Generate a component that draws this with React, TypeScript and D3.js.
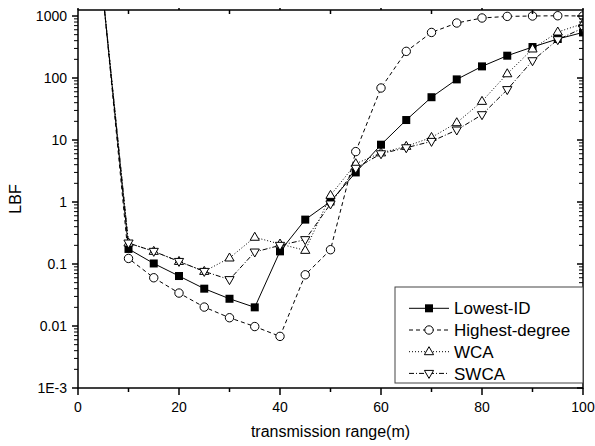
import React from 'react';
import * as d3 from 'd3';

// transmission range (m)
const ranges = [5, 10, 15, 20, 25, 30, 35, 40, 45, 50, 55, 60, 65, 70, 75, 80, 85, 90, 95, 100];
// LBF per algorithm (first point is off the top of the chart)
const lowestId = [2000, 0.175, 0.102, 0.064, 0.04, 0.0275, 0.02, 0.16, 0.52, 1.02, 3.0, 8.4, 21, 49, 95, 154, 229, 316, 426, 543];
const highestDegree = [2000, 0.123, 0.06, 0.034, 0.0202, 0.0136, 0.0098, 0.0068, 0.067, 0.17, 6.5, 69, 269, 543, 771, 929, 986, 1000, 1010, 1000];
const wca = [2000, 0.218, 0.16, 0.11, 0.076, 0.125, 0.27, 0.21, 0.166, 1.28, 4.15, 6.2, 7.9, 11, 19, 42, 117, 294, 552, 751];
const swca = [2000, 0.218, 0.16, 0.11, 0.076, 0.056, 0.156, 0.2, 0.247, 0.93, 3.5, 6.0, 7.5, 9.5, 14.5, 25.6, 65, 190, 415, 640];

const seriesNames = ['Lowest-ID', 'Highest-degree', 'WCA', 'SWCA'];
const xTicks = [0, 20, 40, 60, 80, 100];
const yTicks = [0.001, 0.01, 0.1, 1, 10, 100, 1000];
const yTickLabels = ['1E-3', '0.01', '0.1', '1', '10', '100', '1000'];

const W = 595, H = 446;
const left = 78, right = 583, top = 10, bottom = 388;
const FONT = '"Liberation Sans", Arial, sans-serif';

const x = d3.scaleLinear().domain([0, 100]).range([left, right]);
const y = d3.scaleLog().domain([0.001, 1250]).range([bottom, top]);

const styles = [
  { dash: undefined, marker: 'square' },
  { dash: '4,3', marker: 'circle' },
  { dash: '1,2', marker: 'up' },
  { dash: '5,2,1,2', marker: 'down' },
];

const Marker = ({ kind, cx, cy }: { kind: string; cx: number; cy: number }) => {
  if (kind === 'square')
    return <rect x={cx - 4} y={cy - 4} width={8} height={8} fill="#000" />;
  if (kind === 'circle')
    return <circle cx={cx} cy={cy} r={4.2} fill="#fff" stroke="#000" strokeWidth={1} />;
  const s = kind === 'up' ? 1 : -1;
  const pts = [[cx, cy - 5 * s], [cx + 4.6, cy + 3 * s], [cx - 4.6, cy + 3 * s]];
  return <polygon points={pts.map(p => p.join(',')).join(' ')} fill="#fff" stroke="#000" strokeWidth={1} />;
};

const App = () => {
  const allSeries = [lowestId, highestDegree, wca, swca];
  const line = d3.line<number>()
    .x((_, i) => x(ranges[i]))
    .y(v => y(v));

  const minorX = d3.range(0, 101, 10).filter(v => v % 20 !== 0);
  const minorY: number[] = [];
  for (let e = -3; e <= 3; e++) {
    for (let k = 2; k <= 9; k++) {
      const v = k * Math.pow(10, e);
      if (v <= 1250) minorY.push(v);
    }
  }

  const legendX = 395, legendY = 287, legendRowH = 21.7;

  return (
    <svg width={W} height={H} style={{ position: 'absolute', left: 0, top: 0, background: '#fff' }} fontFamily={FONT}>
      <defs>
        <clipPath id="plot">
          <rect x={left} y={top} width={right - left} height={bottom - top} />
        </clipPath>
      </defs>
      <rect width={W} height={H} fill="#fff" />

      {/* series */}
      <g clipPath="url(#plot)">
        {allSeries.map((data, si) => (
          <path key={si} d={line(data) || ''} fill="none" stroke="#000" strokeWidth={1}
            strokeDasharray={styles[si].dash} />
        ))}
        {allSeries.map((data, si) => (
          <g key={'m' + si}>
            {data.map((v, i) => (
              <Marker key={i} kind={styles[si].marker} cx={x(ranges[i])} cy={y(v)} />
            ))}
          </g>
        ))}
      </g>

      {/* axes frame */}
      <rect x={left} y={top} width={right - left} height={bottom - top} fill="none" stroke="#000" strokeWidth={1.5} />

      {/* bottom & top ticks */}
      {xTicks.map(t => (
        <g key={'xt' + t}>
          <line x1={x(t)} x2={x(t)} y1={bottom} y2={bottom + 7} stroke="#000" strokeWidth={1.5} />
          <line x1={x(t)} x2={x(t)} y1={top} y2={top - 2} stroke="#000" strokeWidth={1.5} />
          <text x={x(t)} y={412} fontSize={14} textAnchor="middle">{t}</text>
        </g>
      ))}
      {minorX.map(t => (
        <g key={'xm' + t}>
          <line x1={x(t)} x2={x(t)} y1={bottom} y2={bottom + 4} stroke="#000" strokeWidth={1.5} />
          <line x1={x(t)} x2={x(t)} y1={top} y2={top + 4} stroke="#000" strokeWidth={1.5} />
        </g>
      ))}

      {/* left & right ticks */}
      {yTicks.map((t, i) => (
        <g key={'yt' + t}>
          <line x1={left - 6} x2={left} y1={y(t)} y2={y(t)} stroke="#000" strokeWidth={1.5} />
          <line x1={right - 6} x2={right} y1={y(t)} y2={y(t)} stroke="#000" strokeWidth={1.5} />
          <text x={67} y={y(t)} dy="0.36em" fontSize={14} textAnchor="end">{yTickLabels[i]}</text>
        </g>
      ))}
      {minorY.map(t => (
        <g key={'ym' + t}>
          <line x1={left - 4} x2={left} y1={y(t)} y2={y(t)} stroke="#000" strokeWidth={1} />
          <line x1={right - 4} x2={right} y1={y(t)} y2={y(t)} stroke="#000" strokeWidth={1} />
        </g>
      ))}

      {/* axis titles */}
      <text x={(left + right) / 2} y={437} fontSize={16} textAnchor="middle">transmission range(m)</text>
      <text transform={`translate(21,${(top + bottom) / 2}) rotate(-90)`} fontSize={16} textAnchor="middle">LBF</text>

      {/* legend */}
      <rect x={legendX} y={legendY} width={right - legendX} height={383 - legendY} fill="#fff" stroke="#444" strokeWidth={1} />
      {seriesNames.map((name, i) => {
        const ly = 308.3 + i * legendRowH;
        return (
          <g key={name}>
            <line x1={409} x2={449} y1={ly} y2={ly} stroke="#000" strokeWidth={1} strokeDasharray={styles[i].dash} />
            <Marker kind={styles[i].marker} cx={429} cy={ly} />
            <text x={454} y={ly} dy="0.36em" fontSize={17}>{name}</text>
          </g>
        );
      })}
    </svg>
  );
};

export default App;
